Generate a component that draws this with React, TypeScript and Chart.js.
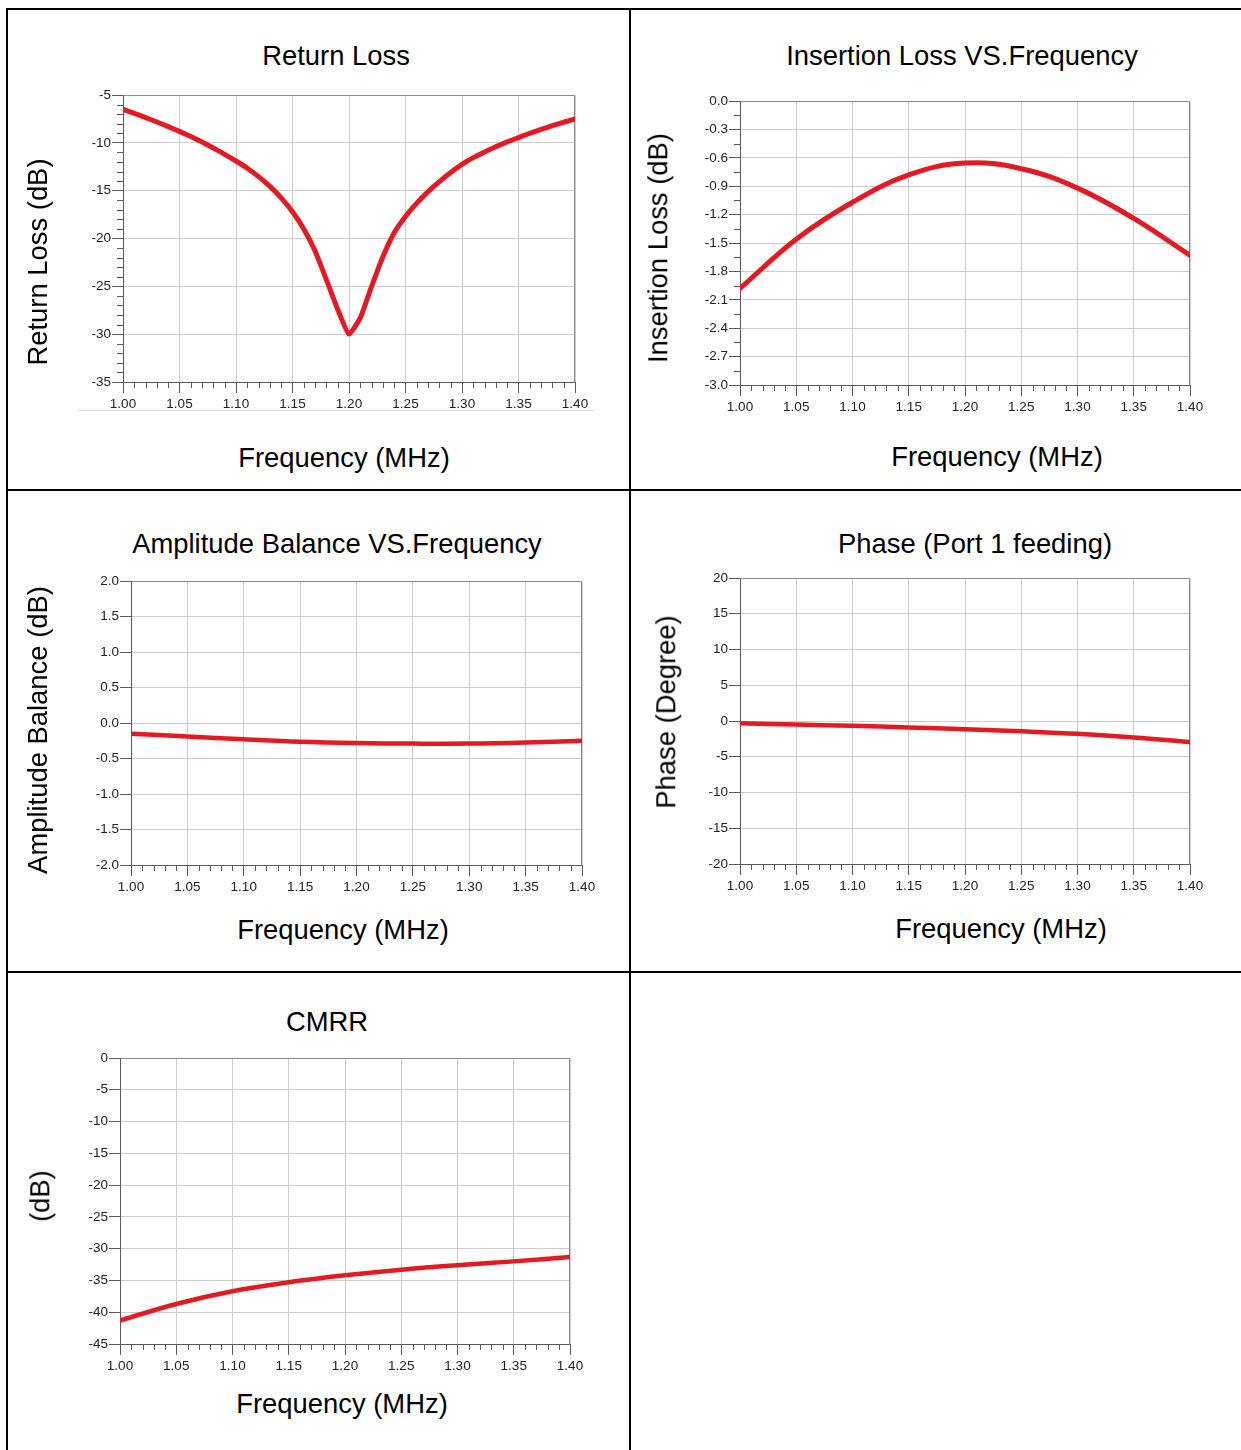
import React, { useEffect, useRef } from 'react';
import { Chart, registerables } from 'chart.js';

Chart.register(...registerables);

// ---------- data ----------
const FREQ_FINE = [
  1.0, 1.01, 1.02, 1.03, 1.04, 1.05, 1.06, 1.07, 1.08, 1.09,
  1.1, 1.11, 1.12, 1.13, 1.14, 1.15, 1.16, 1.17, 1.18, 1.19,
  1.2, 1.21, 1.22, 1.23, 1.24, 1.25, 1.26, 1.27, 1.28, 1.29,
  1.3, 1.31, 1.32, 1.33, 1.34, 1.35, 1.36, 1.37, 1.38, 1.39, 1.4,
];
const RETURN_LOSS = [
  -6.5, -6.92, -7.36, -7.82, -8.3, -8.8, -9.34, -9.92, -10.54, -11.2,
  -11.9, -12.65, -13.53, -14.55, -15.75, -17.2, -19.0, -21.3, -24.3, -27.4,
  -30.0, -28.3, -25.0, -21.9, -19.4, -17.7, -16.3, -15.1, -14.05, -13.1,
  -12.25, -11.55, -10.95, -10.4, -9.9, -9.45, -9.0, -8.6, -8.2, -7.85, -7.5,
];

const FREQ = [1.0, 1.05, 1.1, 1.15, 1.2, 1.25, 1.3, 1.35, 1.4];
const INSERTION_LOSS = [-1.98, -1.46, -1.07, -0.78, -0.655, -0.715, -0.92, -1.24, -1.63];
const AMPLITUDE_BALANCE = [-0.15, -0.19, -0.23, -0.265, -0.283, -0.29, -0.29, -0.275, -0.25];
const PHASE = [-0.3, -0.5, -0.66, -0.9, -1.15, -1.45, -1.8, -2.3, -2.95];
const CMRR = [-41.3, -38.7, -36.7, -35.3, -34.2, -33.3, -32.6, -32.0, -31.3];

// ---------- tick labels ----------
const X_TICKS = [1.0, 1.05, 1.1, 1.15, 1.2, 1.25, 1.3, 1.35, 1.4];
const RL_TICKS = [-35, -30, -25, -20, -15, -10, -5];
const IL_TICKS = [-3.0, -2.7, -2.4, -2.1, -1.8, -1.5, -1.2, -0.9, -0.6, -0.3, 0.0];
const AB_TICKS = [-2.0, -1.5, -1.0, -0.5, 0.0, 0.5, 1.0, 1.5, 2.0];
const PH_TICKS = [-20, -15, -10, -5, 0, 5, 10, 15, 20];
const CM_TICKS = [-45, -40, -35, -30, -25, -20, -15, -10, -5, 0];

// ---------- style ----------
const RED = 'rgb(228,26,34)';
const GRID = '#cdcdcd';
const AXIS = '#5a5a5a';
const FRAME = '#8c8c8c';
const TICK_TEXT = '#222222';
const FONT = "'Liberation Sans', Arial, sans-serif";

const PAD_L = 70;
const PAD_T = 15;
const PAD_R = 45;
const PAD_B = 40;

type Cfg = {
  plot: [number, number, number, number];
  xs: number[];
  ys: number[];
  yTicks: number[];
  yDec: number;
  yMinorStep: number | null;
  lw: number;
  tension: number;
};

const minorPlugin = {
  id: 'minorTicks',
  beforeDatasetsDraw(chart: any, _args: any, opts: any) {
    const { ctx, chartArea: a, scales } = chart;
    const x = scales.x;
    const y = scales.y;
    ctx.save();
    ctx.lineWidth = 1;
    ctx.strokeStyle = FRAME;
    ctx.beginPath();
    ctx.moveTo(Math.round(a.left) + 0.5, Math.round(a.top) + 0.5);
    ctx.lineTo(Math.round(a.right) - 0.5, Math.round(a.top) + 0.5);
    ctx.lineTo(Math.round(a.right) - 0.5, Math.round(a.bottom) + 0.5);
    ctx.stroke();
    ctx.strokeStyle = AXIS;
    ctx.beginPath();
    const xMin = x.min, xMax = x.max;
    const xs = opts.xStep;
    for (let i = 1; xMin + i * xs < xMax - 1e-9; i++) {
      const v = xMin + i * xs;
      if (Math.abs(Math.round(v / 0.05) * 0.05 - v) < 1e-6) continue;
      const px = Math.round(x.getPixelForValue(v)) + 0.5;
      ctx.moveTo(px, a.bottom);
      ctx.lineTo(px, a.bottom + 6);
    }
    if (opts.yStep) {
      const ys = opts.yStep;
      const major = opts.yMajor;
      for (let i = 1; y.min + i * ys < y.max - 1e-9; i++) {
        const v = y.min + i * ys;
        if (Math.abs(Math.round(v / major) * major - v) < 1e-6) continue;
        const py = Math.round(y.getPixelForValue(v)) + 0.5;
        ctx.moveTo(a.left - 6, py);
        ctx.lineTo(a.left, py);
      }
    }
    ctx.stroke();
    ctx.restore();
  },
};

function LineChart({ cfg }: { cfg: Cfg }) {
  const ref = useRef<HTMLCanvasElement | null>(null);
  const [L, T, R, B] = cfg.plot;
  const left = L - PAD_L;
  const top = T - PAD_T;
  const w = R - L + PAD_L + PAD_R;
  const h = B - T + PAD_T + PAD_B;

  useEffect(() => {
    if (!ref.current) return;
    const yt = cfg.yTicks;
    const chart = new Chart(ref.current, {
      type: 'line',
      data: {
        datasets: [
          {
            data: cfg.xs.map((x, i) => ({ x, y: cfg.ys[i] })),
            borderColor: RED,
            borderWidth: cfg.lw,
            pointRadius: 0,
            fill: false,
            tension: cfg.tension,
            borderCapStyle: 'round',
            borderJoinStyle: 'round',
          },
        ],
      },
      options: {
        animation: false,
        responsive: false,
        devicePixelRatio: 1,
        events: [],
        layout: { padding: { left: 0, top: PAD_T, right: PAD_R, bottom: 0 } },
        plugins: {
          legend: { display: false },
          tooltip: { enabled: false },
          title: { display: false },
          minorTicks: {
            xStep: 0.01,
            yStep: cfg.yMinorStep,
            yMajor: yt[1] - yt[0],
          },
        } as any,
        scales: {
          x: {
            type: 'linear',
            min: X_TICKS[0],
            max: X_TICKS[X_TICKS.length - 1],
            afterBuildTicks: (s: any) => {
              s.ticks = X_TICKS.map((v) => ({ value: v }));
            },
            afterFit: (s: any) => {
              s.height = PAD_B;
            },
            ticks: {
              callback: (v: any) => Number(v).toFixed(2),
              font: { family: FONT, size: 13.5 },
              color: TICK_TEXT,
              padding: 3,
              autoSkip: false,
              maxRotation: 0,
              minRotation: 0,
            },
            grid: { color: GRID, tickColor: AXIS, tickLength: 11, lineWidth: 1 },
            border: { color: AXIS, width: 1 },
          },
          y: {
            type: 'linear',
            min: yt[0],
            max: yt[yt.length - 1],
            afterBuildTicks: (s: any) => {
              s.ticks = yt.map((v) => ({ value: v }));
            },
            afterFit: (s: any) => {
              s.width = PAD_L;
            },
            ticks: {
              callback: (v: any) => {
                const n = Math.abs(Number(v)) < 1e-9 ? 0 : Number(v);
                return n.toFixed(cfg.yDec);
              },
              font: { family: FONT, size: 13.5 },
              color: TICK_TEXT,
              padding: 1,
              autoSkip: false,
            },
            grid: { color: GRID, tickColor: AXIS, tickLength: 11, lineWidth: 1 },
            border: { color: AXIS, width: 1 },
          },
        },
      } as any,
      plugins: [minorPlugin],
    });
    return () => chart.destroy();
  }, []);

  return (
    <canvas
      ref={ref}
      width={w}
      height={h}
      style={{ position: 'absolute', left, top, width: w, height: h }}
    />
  );
}

function Txt({ x, y, text, rot }: { x: number; y: number; text: string; rot?: boolean }) {
  return (
    <div
      style={{
        position: 'absolute',
        left: x,
        top: y,
        transform: `translate(-50%, -50%)${rot ? ' rotate(-90deg)' : ''}`,
        whiteSpace: 'nowrap',
        fontFamily: FONT,
        fontSize: 27.4,
        lineHeight: 1,
        color: '#000',
      }}
    >
      {text}
    </div>
  );
}

function Line({ x, y, w, h, c }: { x: number; y: number; w: number; h: number; c?: string }) {
  return (
    <div style={{ position: 'absolute', left: x, top: y, width: w, height: h, background: c || '#000' }} />
  );
}

const CHARTS: Cfg[] = [
  { plot: [123, 95, 575, 382], xs: FREQ_FINE, ys: RETURN_LOSS, yTicks: RL_TICKS, yDec: 0, yMinorStep: 1, lw: 5, tension: 0.15 },
  { plot: [740, 101, 1190, 385], xs: FREQ, ys: INSERTION_LOSS, yTicks: IL_TICKS, yDec: 1, yMinorStep: 0.15, lw: 5, tension: 0.4 },
  { plot: [131, 581, 582, 865], xs: FREQ, ys: AMPLITUDE_BALANCE, yTicks: AB_TICKS, yDec: 1, yMinorStep: null, lw: 4.5, tension: 0.4 },
  { plot: [740, 578, 1190, 864], xs: FREQ, ys: PHASE, yTicks: PH_TICKS, yDec: 0, yMinorStep: null, lw: 4.5, tension: 0.4 },
  { plot: [120, 1058, 570, 1344], xs: FREQ, ys: CMRR, yTicks: CM_TICKS, yDec: 0, yMinorStep: null, lw: 4.5, tension: 0.4 },
];

export default function App() {
  return (
    <div style={{ position: 'absolute', left: 0, top: 0, width: 1241, height: 1450, overflow: 'hidden', background: '#fff' }}>
      {/* table borders */}
      <Line x={6} y={8} w={1235} h={2} />
      <Line x={6} y={489} w={1235} h={2} />
      <Line x={6} y={971} w={1235} h={2} />
      <Line x={6} y={8} w={2} h={1442} />
      <Line x={629} y={8} w={2} h={1442} />
      <Line x={78} y={410} w={517} h={1} c="#e2e2e2" />

      {CHARTS.map((c, i) => (
        <LineChart key={i} cfg={c} />
      ))}

      <Txt x={336} y={56} text="Return Loss" />
      <Txt x={962} y={56} text="Insertion Loss VS.Frequency" />
      <Txt x={337} y={544} text="Amplitude Balance VS.Frequency" />
      <Txt x={975} y={544} text="Phase (Port 1 feeding)" />
      <Txt x={327} y={1022} text="CMRR" />

      <Txt x={344} y={458} text="Frequency (MHz)" />
      <Txt x={997} y={457} text="Frequency (MHz)" />
      <Txt x={343} y={930} text="Frequency (MHz)" />
      <Txt x={1001} y={929} text="Frequency (MHz)" />
      <Txt x={342} y={1404} text="Frequency (MHz)" />

      <Txt x={38} y={262} text="Return Loss (dB)" rot />
      <Txt x={658} y={248} text="Insertion Loss (dB)" rot />
      <Txt x={38} y={730} text="Amplitude Balance (dB)" rot />
      <Txt x={666} y={712} text="Phase (Degree)" rot />
      <Txt x={40} y={1196} text="(dB)" rot />
    </div>
  );
}
